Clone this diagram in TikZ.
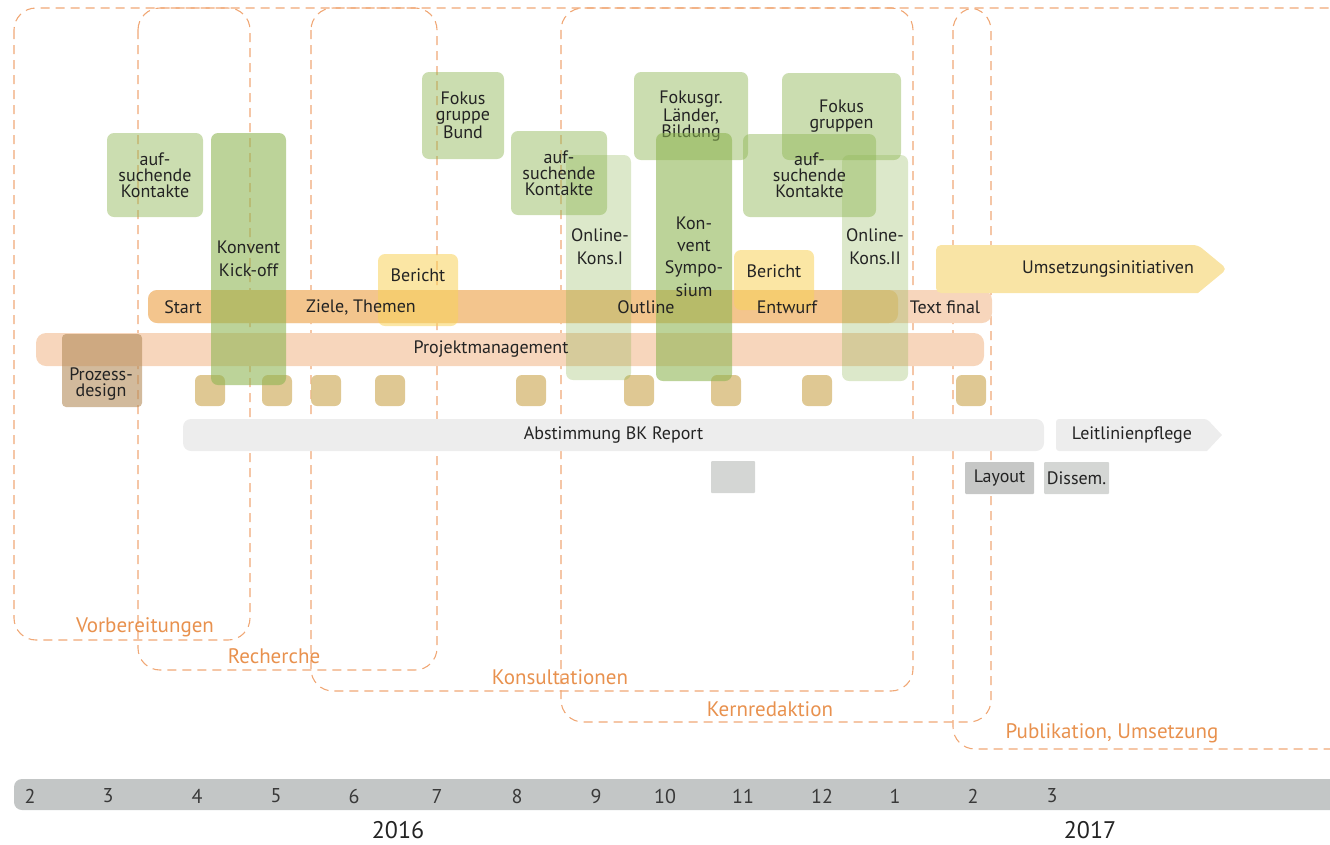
\documentclass[tikz,border=0pt]{standalone}
\usepackage{fontspec}
\setmainfont{PT Sans}
\definecolor{frameor}{RGB}{240,168,118}
\definecolor{labelor}{RGB}{232,145,78}
\definecolor{grn}{RGB}{140,180,80}
\definecolor{barorange}{RGB}{243,197,141}
\definecolor{pmorange}{RGB}{247,214,188}
\definecolor{yel}{RGB}{248,210,90}
\definecolor{umsyel}{RGB}{249,228,165}
\definecolor{brownbox}{RGB}{180,140,90}
\definecolor{milestone}{RGB}{220,195,138}
\definecolor{lightgrey}{RGB}{237,237,237}
\definecolor{midgrey}{RGB}{212,214,212}
\definecolor{darkgrey}{RGB}{198,199,198}
\definecolor{axisgrey}{RGB}{195,198,198}
\definecolor{txt}{RGB}{35,35,35}
% box from (x1,y1) to (x2,y2) in pixel units
\newcommand\tbox[7]{\node[#1, minimum width={(#5)-(#3)}, minimum height={(#6)-(#4)}] (#2) at ({((#3)+(#5))/2},{((#4)+(#6))/2}) {#7};}
\begin{document}
\begin{tikzpicture}[x=1pt,y=-1pt,
  phase/.style={draw=frameor, line width=1.1pt, dash pattern=on 9pt off 6pt, rounded corners=22pt},
  phaselabel/.style={text=labelor, font=\fontsize{21}{21}\selectfont, inner sep=0pt},
  base/.style={inner sep=0pt, text=txt, align=center, text opacity=1, font=\fontsize{18}{16}\selectfont},
  lightgreen/.style={base, fill=grn, fill opacity=.45, rounded corners=7pt},
  konvent/.style={base, fill=grn, fill opacity=.58, rounded corners=7pt},
  online/.style={base, fill=grn, fill opacity=.3, rounded corners=7pt},
  bericht/.style={base, fill=yel, fill opacity=.55, rounded corners=7pt},
  prozess/.style={base, fill=brownbox, fill opacity=.6, rounded corners=4pt},
  orangebar/.style={base, fill=barorange, rounded corners=9pt},
  pmbar/.style={base, fill=pmorange, rounded corners=10pt},
  milestonebox/.style={base, fill=milestone, fill opacity=.92, rounded corners=6pt},
  greybar/.style={base, fill=lightgrey, rounded corners=8pt},
  greybox/.style={base, fill=midgrey, rounded corners=1pt},
  lbl/.style={inner sep=0pt, text=txt, align=center, font=\fontsize{18}{16}\selectfont},
  month/.style={inner sep=0pt, text=txt!90, font=\fontsize{20}{20}\selectfont},
  year/.style={inner sep=0pt, text=txt, font=\fontsize{24}{24}\selectfont}
]
\clip (0,0) rectangle (1330,844);
\useasboundingbox (0,0) rectangle (1330,844);

% phase frames
\draw[phase] (14,8) rectangle (250,640);
\draw[phase] (138,8) rectangle (437,670);
\draw[phase] (311,8) rectangle (913,691);
\draw[phase] (561,8) rectangle (991,722);
\draw[phase] (953,8) rectangle (1400,749);
\node[phaselabel] (l-vorb) at (145,627) {Vorbereitungen};
\node[phaselabel] (l-rech) at (274,656) {Recherche};
\node[phaselabel] (l-kons) at (560,677) {Konsultationen};
\node[phaselabel] (l-kern) at (770,709) {Kernredaktion};
\node[phaselabel] (l-publ) at (1112,733) {Publikation, Umsetzung};

% bars
\tbox{pmbar}{pm}{36}{333}{984}{366}{}
\tbox{pmbar}{textfinal}{148}{290}{992}{323}{}
\tbox{orangebar}{textbar}{148}{290}{898}{323}{}

% implementation arrow
\fill[umsyel, rounded corners=5pt] (936,245) -- (1198,245) -- (1227,269) [sharp corners] -- (1198,293) [rounded corners=5pt] -- (936,293) -- cycle;
\node[lbl] (umsetzung) at (1108,269) {Umsetzungsinitiativen};

% grey bars
\tbox{greybar}{abstimmung}{183}{419}{1044}{451}{Abstimmung BK Report}
\fill[lightgrey, rounded corners=3pt] (1056,419) -- (1207,419) [sharp corners] -- (1222,435) -- (1207,451) [rounded corners=3pt] -- (1056,451) -- cycle;
\node[lbl] (leitlinien) at (1132,435) {Leitlinienpflege};
\tbox{greybox}{grey11}{711}{461}{755}{493}{}
\tbox{greybox, fill=darkgrey}{layout}{965}{462}{1034}{494}{Layout}
\tbox{greybox}{dissem}{1044}{462}{1109}{494}{Dissem.}

% milestones
\foreach \x [count=\i] in {195,262,311,375,516,624,711,802,956}
  \tbox{milestonebox}{ms\i}{\x}{375}{\x+30}{406}{};

% green activities
\tbox{online}{online1}{566}{155}{631}{380}{}
\tbox{online}{online2}{842}{155}{908}{381}{}
\tbox{lightgreen}{auf1}{107}{133}{203}{217}{auf-\\suchende\\Kontakte}
\tbox{lightgreen}{fokus1}{422}{72}{504}{159}{Fokus\\gruppe\\Bund}
\tbox{lightgreen}{auf2}{511}{131}{607}{215}{auf-\\suchende\\Kontakte}
\tbox{lightgreen}{fokus2}{634}{72}{748}{160}{Fokusgr.\\Länder,\\Bildung}
\tbox{lightgreen}{fokus3}{782}{73}{901}{160}{Fokus\\gruppen}
\tbox{lightgreen}{auf3}{743}{134}{876}{217}{auf-\\suchende\\Kontakte}
\tbox{konvent}{kickoff}{211}{133}{286}{385}{Konvent\\[7pt]Kick-off}
\tbox{konvent}{symposium}{656}{133}{732}{381}{Kon-\\[6pt]vent\\[6pt]Sympo-\\[6pt]sium}
\node[lbl] (online1-t) at (600,247) {Online-\\[7pt]Kons.I};
\node[lbl] (online2-t) at (875,247) {Online-\\[7pt]Kons.II};

% reports and process design
\tbox{bericht}{bericht1}{378}{254}{458}{326}{}
\node[lbl] (bericht1-t) at (418,275) {Bericht};
\tbox{bericht}{bericht2}{734}{250}{814}{310}{}
\node[lbl] (bericht2-t) at (774,271) {Bericht};
\tbox{prozess}{prozess}{62}{334}{142}{407}{}
\node[lbl] (prozess-t) at (101,384) {Prozess-\\design};

% bar labels on top of everything
\node[lbl] (pm-t) at (491,349) {Projektmanagement};
\node[lbl] (t-start) at (183,307) {Start};
\node[lbl] (t-ziele) at (361,307) {Ziele, Themen};
\node[lbl] (t-outline) at (646,307) {Outline};
\node[lbl] (t-entwurf) at (787,307) {Entwurf};
\node[lbl] (t-final) at (945,307) {Text final};

% time axis
\fill[axisgrey, rounded corners=8pt] (14,779) rectangle (1400,810);
\foreach \m/\x [count=\i] in {2/30,3/108,4/197,5/276,6/354,7/437,8/517,9/596,10/665,11/743,12/822,1/895,2/973,3/1052}
  \node[month] (m\i) at (\x,796) {\m};
\node[year] (y2016) at (398,830) {2016};
\node[year] (y2017) at (1090,830) {2017};
\end{tikzpicture}
\end{document}
